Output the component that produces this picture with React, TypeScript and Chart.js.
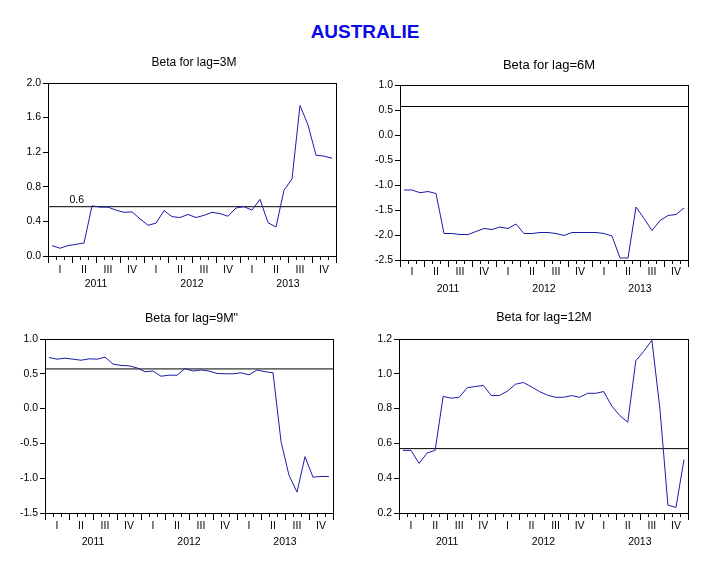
import React, { useEffect, useRef } from "react";
import { Chart, registerables } from "chart.js";

Chart.register(...registerables);

// ---------- data ----------
const MONTHS = [
  "2011-01", "2011-02", "2011-03", "2011-04", "2011-05", "2011-06",
  "2011-07", "2011-08", "2011-09", "2011-10", "2011-11", "2011-12",
  "2012-01", "2012-02", "2012-03", "2012-04", "2012-05", "2012-06",
  "2012-07", "2012-08", "2012-09", "2012-10", "2012-11", "2012-12",
  "2013-01", "2013-02", "2013-03", "2013-04", "2013-05", "2013-06",
  "2013-07", "2013-08", "2013-09", "2013-10", "2013-11", "2013-12",
];
const QUARTER_LABELS = ["I", "II", "III", "IV"];
const YEAR_LABELS = ["2011", "2012", "2013"];

const BETA_3M = [
  0.12, 0.09, 0.12, 0.135, 0.15, 0.58, 0.565, 0.565, 0.53, 0.505, 0.51, 0.43,
  0.355, 0.38, 0.525, 0.455, 0.445, 0.48, 0.445, 0.47, 0.505, 0.49, 0.46, 0.555,
  0.57, 0.53, 0.655, 0.385, 0.335, 0.76, 0.89, 1.74, 1.515, 1.165, 1.155, 1.13,
];
const BETA_6M = [
  -1.1, -1.1, -1.155, -1.13, -1.17, -1.97, -1.97, -1.99, -1.99, -1.93, -1.87, -1.89,
  -1.84, -1.87, -1.78, -1.97, -1.97, -1.95, -1.95, -1.97, -2.01, -1.95, -1.95, -1.95,
  -1.95, -1.97, -2.02, -2.46, -2.46, -1.44, -1.67, -1.91, -1.71, -1.61, -1.59, -1.46,
];
const BETA_9M = [
  0.735, 0.71, 0.725, 0.71, 0.695, 0.715, 0.71, 0.74, 0.64, 0.62, 0.615, 0.585,
  0.53, 0.54, 0.465, 0.48, 0.48, 0.575, 0.54, 0.555, 0.54, 0.505, 0.5, 0.5,
  0.515, 0.485, 0.555, 0.53, 0.515, -0.47, -0.96, -1.2, -0.69, -0.985, -0.975, -0.975,
];
const BETA_12M = [
  0.56, 0.56, 0.485, 0.545, 0.56, 0.87, 0.86, 0.865, 0.92, 0.927, 0.933, 0.875,
  0.875, 0.9, 0.94, 0.95, 0.925, 0.898, 0.877, 0.865, 0.865, 0.875, 0.865, 0.888,
  0.888, 0.898, 0.815, 0.76, 0.722, 1.075, 1.13, 1.193, 0.8, 0.245, 0.232, 0.507,
];

const REF_LINE = 0.57;
const REF_LABEL = "0.6";

const Y_TICKS_3M = [0.0, 0.4, 0.8, 1.2, 1.6, 2.0];
const Y_TICKS_6M = [-2.5, -2.0, -1.5, -1.0, -0.5, 0.0, 0.5, 1.0];
const Y_TICKS_9M = [-1.5, -1.0, -0.5, 0.0, 0.5, 1.0];
const Y_TICKS_12M = [0.2, 0.4, 0.6, 0.8, 1.0, 1.2];

const MAIN_TITLE = "AUSTRALIE";

// ---------- panels ----------
const FONT = '"Liberation Sans", Arial, sans-serif';
const LINE_COLOR = "#1c1ca8";

type Panel = {
  title: string;
  titleSize: number;
  titleX: number;
  titleY: number;
  values: number[];
  yTicks: number[];
  canvas: { x: number; y: number; w: number; h: number };
  area: { l: number; r: number; t: number; b: number };
  qDy: number;
  yDy: number;
  refLabel?: boolean;
};

const PANELS: Panel[] = [
  {
    title: "Beta for lag=3M", titleSize: 12, titleX: 194, titleY: 63,
    values: BETA_3M, yTicks: Y_TICKS_3M,
    canvas: { x: 0, y: 0, w: 360, h: 300 },
    area: { l: 48, r: 336, t: 83, b: 256 }, qDy: 14, yDy: 28, refLabel: true,
  },
  {
    title: "Beta for lag=6M", titleSize: 13, titleX: 189, titleY: 65,
    values: BETA_6M, yTicks: Y_TICKS_6M,
    canvas: { x: 360, y: 0, w: 360, h: 300 },
    area: { l: 40, r: 328, t: 85, b: 260 }, qDy: 12.5, yDy: 29,
  },
  {
    title: 'Beta for lag=9M"', titleSize: 12.5, titleX: 191.5, titleY: 18.5,
    values: BETA_9M, yTicks: Y_TICKS_9M,
    canvas: { x: 0, y: 300, w: 360, h: 266 },
    area: { l: 45, r: 333, t: 39, b: 213 }, qDy: 13, yDy: 29,
  },
  {
    title: "Beta for lag=12M", titleSize: 12.5, titleX: 184, titleY: 18,
    values: BETA_12M, yTicks: Y_TICKS_12M,
    canvas: { x: 360, y: 300, w: 360, h: 266 },
    area: { l: 39, r: 328, t: 39, b: 213 }, qDy: 13, yDy: 29,
  },
];

function PanelChart({ p }: { p: Panel }) {
  const ref = useRef<HTMLCanvasElement | null>(null);

  useEffect(() => {
    if (!ref.current) return;
    const n = MONTHS.length;
    const decor = {
      id: "decor",
      afterDraw(chart: any) {
        const ctx = chart.ctx as CanvasRenderingContext2D;
        const { left, right, top, bottom } = chart.chartArea;
        const xs = chart.scales.x;
        const ys = chart.scales.y;
        ctx.save();
        // frame
        ctx.strokeStyle = "#000";
        ctx.lineWidth = 1;
        ctx.strokeRect(Math.round(left) + 0.5, Math.round(top) + 0.5,
          Math.round(right - left), Math.round(bottom - top));
        // x ticks
        const b = Math.round(bottom) + 1;
        ctx.beginPath();
        for (let m = 0; m <= n; m++) {
          const px = Math.round(xs.getPixelForValue(m)) + 0.5;
          const len = m % 3 === 0 ? 6 : 3;
          ctx.moveTo(px, b);
          ctx.lineTo(px, b + len);
        }
        ctx.stroke();
        // labels
        ctx.fillStyle = "#000";
        ctx.font = `10.5px ${FONT}`;
        ctx.textAlign = "center";
        ctx.textBaseline = "middle";
        for (let q = 0; q < n / 3; q++) {
          ctx.fillText(QUARTER_LABELS[q % 4], xs.getPixelForValue(q * 3 + 1.5), bottom + p.qDy);
        }
        for (let y = 0; y < YEAR_LABELS.length; y++) {
          ctx.fillText(YEAR_LABELS[y], xs.getPixelForValue(y * 12 + 6), bottom + p.yDy);
        }
        if (p.refLabel) {
          ctx.fillText(REF_LABEL, xs.getPixelForValue(3.6), ys.getPixelForValue(REF_LINE) - 7);
        }
        // subtitle
        ctx.font = `${p.titleSize}px ${FONT}`;
        ctx.fillText(p.title, p.titleX, p.titleY);
        ctx.restore();
      },
    };

    const chart = new Chart(ref.current, {
      type: "line",
      data: {
        datasets: [
          {
            data: p.values.map((v, i) => ({ x: i + 0.5, y: v })),
            borderColor: LINE_COLOR,
            borderWidth: 1,
            pointRadius: 0,
            tension: 0,
            fill: false,
          },
          {
            data: [{ x: 0, y: REF_LINE }, { x: n, y: REF_LINE }],
            borderColor: "#000",
            borderWidth: 1,
            pointRadius: 0,
            fill: false,
          },
        ],
      },
      options: {
        animation: false,
        responsive: false,
        devicePixelRatio: 1,
        events: [],
        layout: {
          padding: {
            left: 0,
            right: p.canvas.w - p.area.r,
            top: p.area.t,
            bottom: p.canvas.h - p.area.b,
          },
        },
        plugins: { legend: { display: false }, tooltip: { enabled: false }, title: { display: false } },
        scales: {
          x: { type: "linear", display: false, min: 0, max: n },
          y: {
            type: "linear",
            min: p.yTicks[0],
            max: p.yTicks[p.yTicks.length - 1],
            afterBuildTicks: (s: any) => {
              s.ticks = p.yTicks.map((v) => ({ value: v }));
            },
            afterFit: (s: any) => {
              s.width = p.area.l;
            },
            border: { display: false },
            grid: { drawOnChartArea: false, drawTicks: true, tickLength: 5, color: "#000", lineWidth: 1 },
            ticks: {
              color: "#000",
              padding: 2,
              font: { family: FONT, size: 10.5 },
              callback: (v: any) => Number(v).toFixed(1),
            },
          },
        },
      } as any,
      plugins: [decor],
    });
    return () => chart.destroy();
  }, [p]);

  return (
    <canvas
      ref={ref}
      width={p.canvas.w}
      height={p.canvas.h}
      style={{ position: "absolute", left: p.canvas.x, top: p.canvas.y, width: p.canvas.w, height: p.canvas.h }}
    />
  );
}

export default function App() {
  return (
    <div style={{ position: "absolute", left: 0, top: 0, width: 720, height: 566, background: "#fff", overflow: "hidden" }}>
      <div
        style={{
          position: "absolute", left: 0, top: 21, width: 730, textAlign: "center",
          font: `bold 19px ${FONT}`, lineHeight: "22px", color: "#0a0ae6",
        }}
      >
        {MAIN_TITLE}
      </div>
      {PANELS.map((p, i) => (
        <PanelChart key={i} p={p} />
      ))}
    </div>
  );
}
